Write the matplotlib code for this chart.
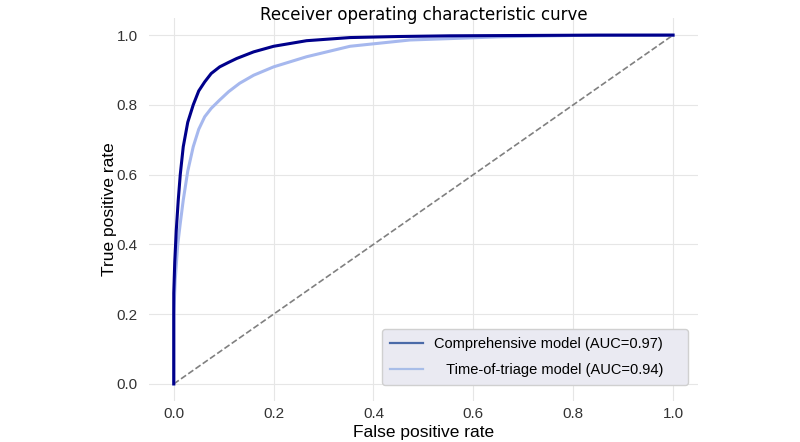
import numpy as np
import matplotlib.pyplot as plt
from matplotlib.lines import Line2D

plt.rcParams['font.family'] = ['Liberation Sans', 'DejaVu Sans']

# ROC points
comp_fpr = [0, 0, 0.002, 0.005, 0.009, 0.013, 0.019, 0.028, 0.039, 0.05, 0.062, 0.075,
            0.092, 0.11, 0.126, 0.16, 0.2, 0.266, 0.353, 0.45, 0.553, 0.7, 0.85, 1.0]
comp_tpr = [0, 0.26, 0.35, 0.44, 0.527, 0.6, 0.68, 0.75, 0.80, 0.84, 0.866, 0.89,
            0.909, 0.922, 0.933, 0.952, 0.968, 0.984, 0.993, 0.996, 0.998, 0.999, 1.0, 1.0]

tri_fpr = [0, 0, 0.003, 0.008, 0.013, 0.019, 0.028, 0.039, 0.05, 0.062, 0.075, 0.092,
           0.11, 0.132, 0.16, 0.2, 0.266, 0.353, 0.473, 0.553, 0.65, 0.8, 1.0]
tri_tpr = [0, 0.2, 0.3, 0.4, 0.46, 0.527, 0.61, 0.68, 0.73, 0.766, 0.79, 0.814,
           0.838, 0.862, 0.885, 0.909, 0.938, 0.968, 0.986, 0.99, 0.995, 0.999, 1.0]

labels = ['Comprehensive model (AUC=0.97)    ', '   Time-of-triage model (AUC=0.94)    ']
ticks = [0.0, 0.2, 0.4, 0.6, 0.8, 1.0]

fig = plt.figure(figsize=(8, 4.42), dpi=100)
ax = fig.add_axes([0.186, 0.092, 0.6865, 0.868])

ax.plot([0, 1], [0, 1], linestyle='--', color='gray', lw=1.2)
ax.plot(tri_fpr, tri_tpr, color='#a6b8ee', lw=2.2)
ax.plot(comp_fpr, comp_tpr, color='#00008b', lw=2.2)

ax.set_xlim(-0.05, 1.05)
ax.set_ylim(-0.05, 1.05)
ax.set_xticks(ticks)
ax.set_yticks(ticks)
ax.grid(True, color='#e6e6e6', lw=0.8)
ax.set_axisbelow(True)
for s in ax.spines.values():
    s.set_visible(False)
ax.tick_params(length=0, labelsize=11, labelcolor='#333333')
ax.tick_params(axis='x', pad=4)
ax.tick_params(axis='y', pad=8)

ax.set_title('Receiver operating characteristic curve', fontsize=12,
             family='DejaVu Sans', pad=0, y=0.9935)
ax.set_xlabel('False positive rate', fontsize=12.5, labelpad=3)
ax.set_ylabel('True positive rate', fontsize=12.5, labelpad=0)

handles = [Line2D([], [], color='#4a6aa8', lw=1.6),
           Line2D([], [], color='#a8bde8', lw=1.6)]
leg = ax.legend(handles, labels, loc='lower right', bbox_to_anchor=(0.982, 0.043),
                borderaxespad=0, fontsize=10.5,
                facecolor='#eaeaf2', edgecolor='#d0d0d0', framealpha=1,
                fancybox=True, borderpad=0.55, labelspacing=0.8,
                handlelength=2.2, handletextpad=0.8)

fig.savefig('out.png', dpi=100)
